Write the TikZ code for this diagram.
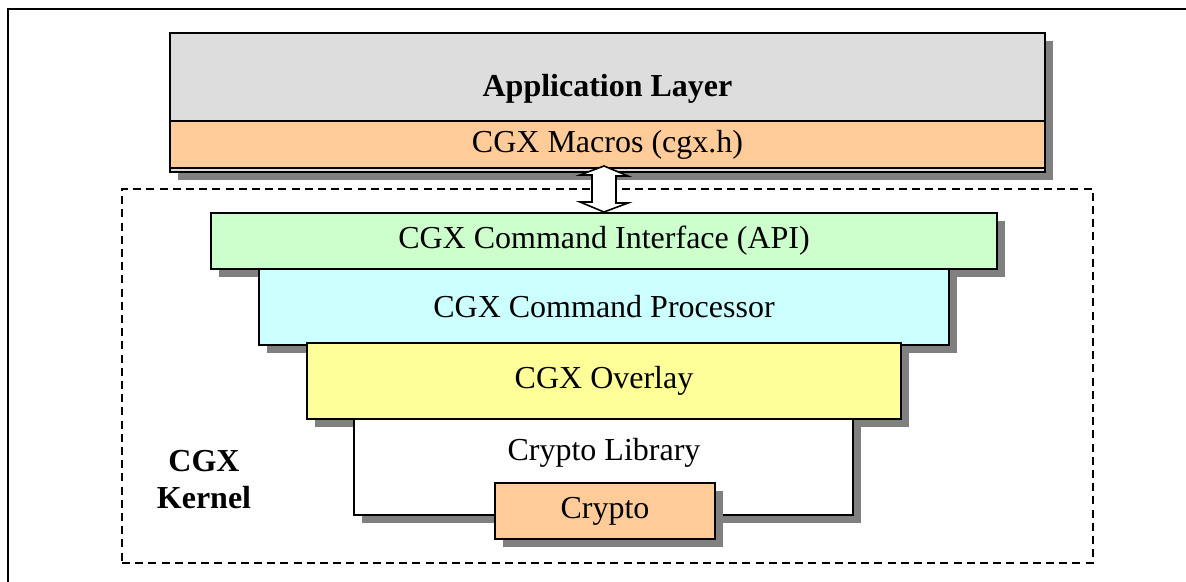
\documentclass[tikz,border=0pt]{standalone}
\usepackage{fontspec}
\setmainfont{Liberation Serif}
\usetikzlibrary{
  shadows,
  calc
}
\definecolor{appgray}{HTML}{DDDDDD}
\definecolor{macroorange}{HTML}{FFCC99}
\definecolor{apigreen}{HTML}{CCFFCC}
\definecolor{proccyan}{HTML}{CCFFFF}
\definecolor{overlayyellow}{HTML}{FFFF99}
\definecolor{shadowgray}{HTML}{808080}
\tikzset{
  flatlayer/.style={
    draw,
    line width=1pt,
    inner sep=0pt,
    font=\fontsize{16}{18.5}\selectfont
  },
  layer/.style={
    flatlayer,
    drop shadow={shadow xshift=4pt, shadow yshift=-4pt, fill=shadowgray, opacity=1}
  },
  boxsize/.style 2 args={
    minimum width=#1*0.5pt,
    minimum height=#2*0.5pt
  },
  layertext/.style={
    inner sep=0pt,
    font=\fontsize{16}{18.5}\selectfont
  },
  kernelbox/.style={
    draw,
    line width=0.9pt,
    dash pattern=on 4pt off 2.6pt
  },
  blockarrow/.style={
    draw,
    fill=white,
    line width=0.8pt,
    line join=miter
  }
}

\begin{document}
\begin{tikzpicture}[
    x=0.5pt,
    y=-0.5pt
  ]
  \useasboundingbox (0,0) rectangle (1186,582);
  \draw[line width=1pt] (8,9) rectangle (1200,600);

  \node[kernelbox, boxsize={971}{374}] (kernel) at (607.5,376) {};

  \node[layer, fill=appgray, boxsize={875}{139}] (app) at (607.5,102.5) {};
  \node[flatlayer, fill=macroorange, boxsize={875}{47}] (macros) at (607.5,144.5) {CGX Macros (cgx.h)};
  \node[layertext, anchor=base] (applabel) at (607.5,97) {\bfseries Application Layer};

  \node[layer, fill=apigreen, boxsize={786}{56}] (api) at (604,241) {CGX Command Interface (API)};
  \node[layer, fill=proccyan, boxsize={690}{76}] (proc) at (604,307) {CGX Command Processor};
  \node[layer, fill=overlayyellow, boxsize={594}{76}] (overlay) at (604,381) {CGX Overlay};
  \node[layer, fill=white, boxsize={499}{96}] (lib) at (603.5,467) {};
  \node[layertext, anchor=base] (liblabel) at (604,460) {Crypto Library};
  \node[layer, fill=macroorange, boxsize={220}{56}] (crypto) at (605,511) {Crypto};

  \node[layertext, align=center] (kernellabel) at (204,480) {\bfseries CGX\\\bfseries Kernel};

  % macros <-> command interface
  \draw[blockarrow] ($(api.north |- macros.south)+(0,-3)$) -- ++(24,10) -- ++(-12,0) -- ++(0,27)
    -- ++(12,0) -- (api.north) -- ++(-24,-10) -- ++(12,0) -- ++(0,-27) -- ++(-12,0) -- cycle;
\end{tikzpicture}
\end{document}
